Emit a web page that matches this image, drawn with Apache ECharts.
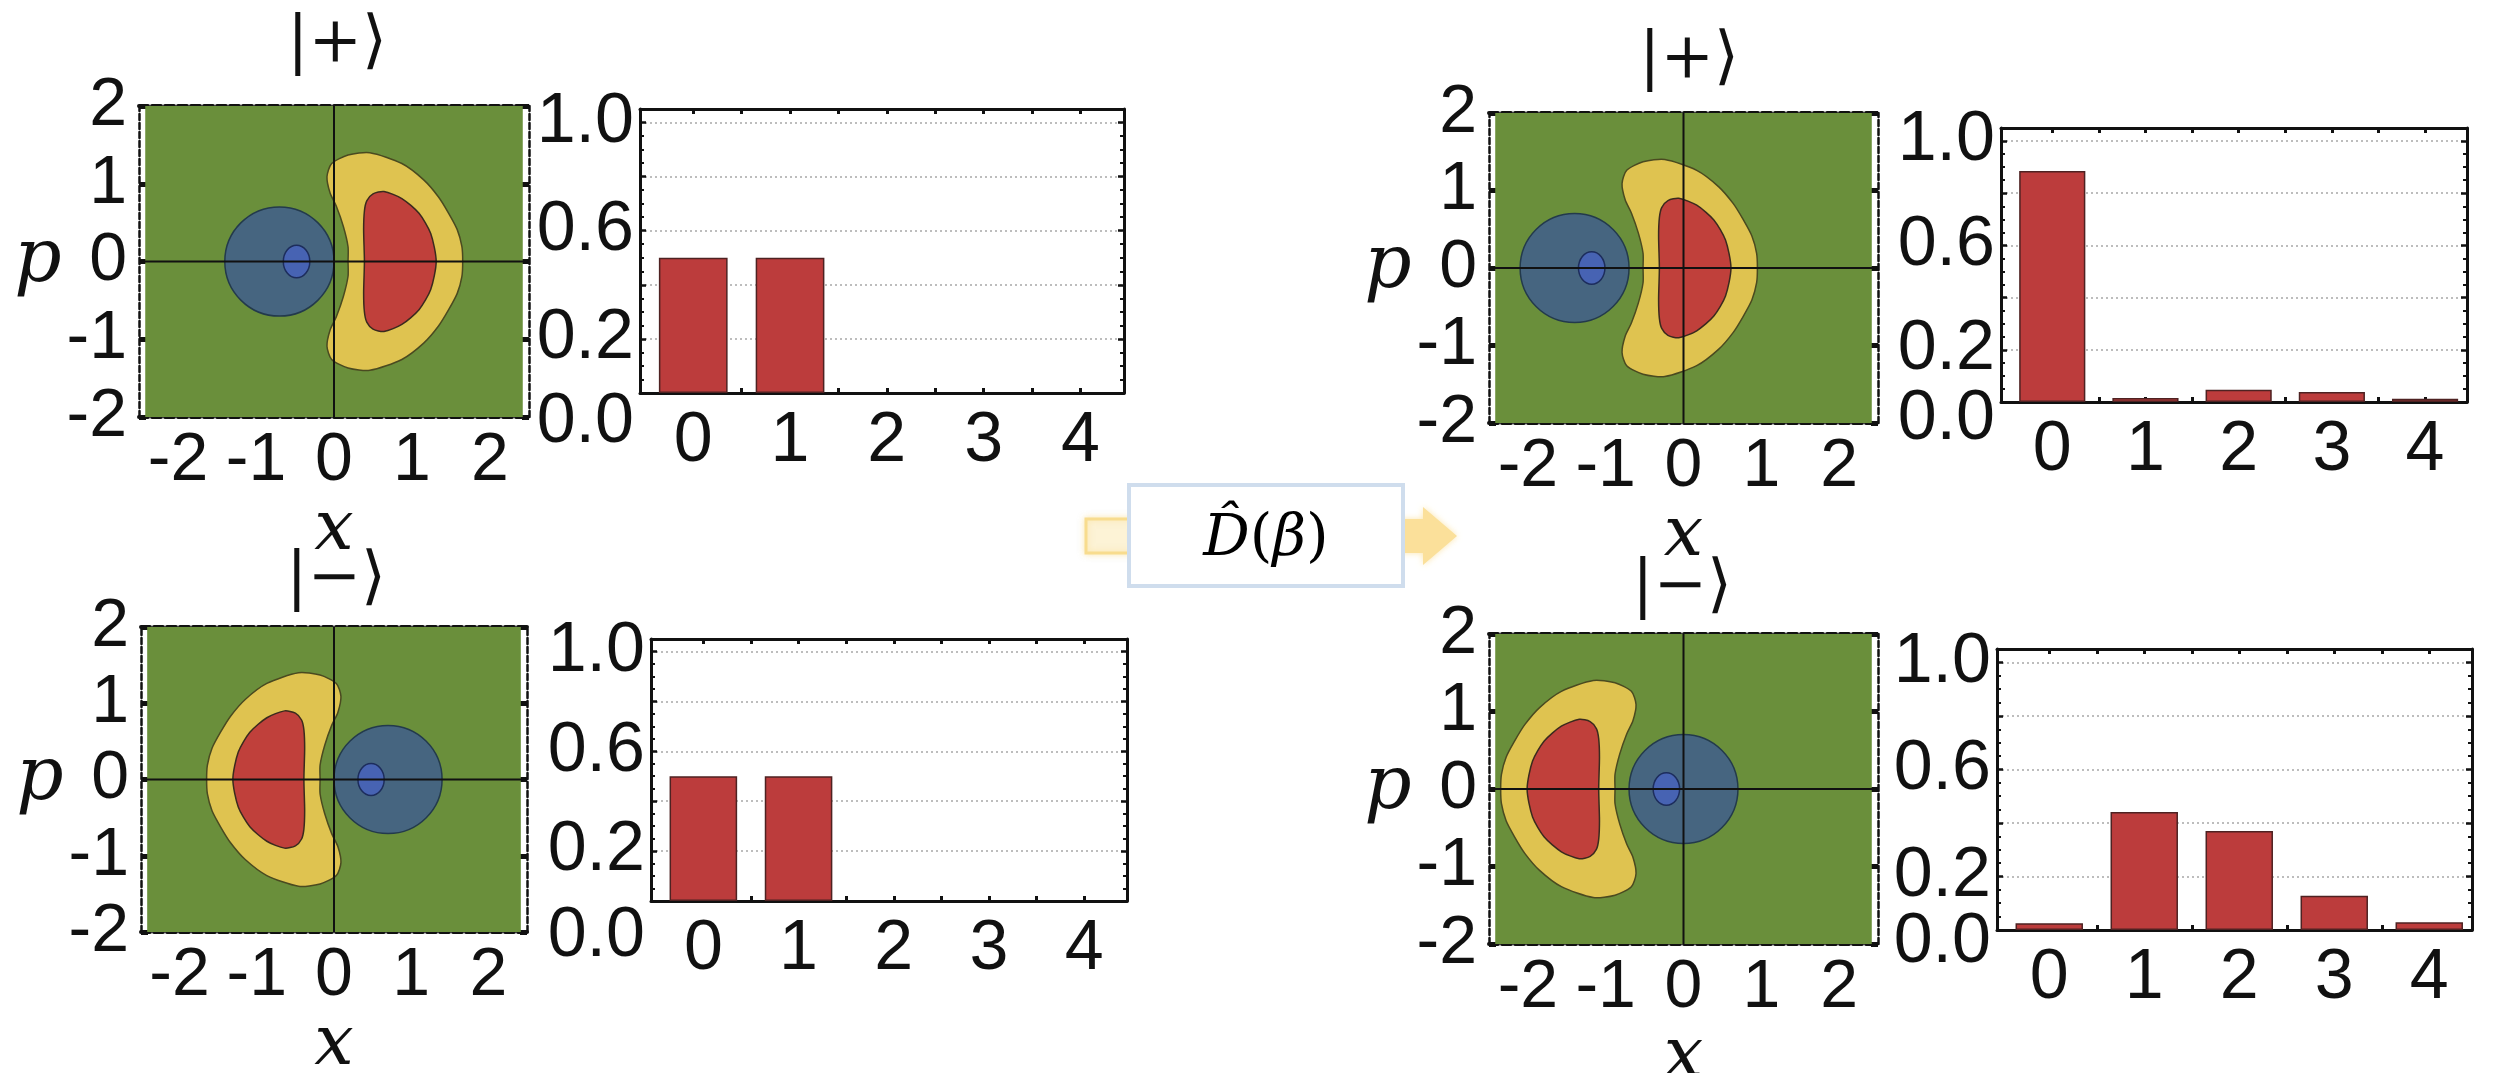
<!DOCTYPE html>
<html><head><meta charset="utf-8">
<script src="https://cdn.jsdelivr.net/npm/echarts@6/dist/echarts.min.js"></script>
<style>html,body{margin:0;padding:0;background:#fff}#c{width:2500px;height:1073px}</style>
</head><body><div id="c"></div>
<script>
// ---------------- data ----------------
const photonNumbers = [0, 1, 2, 3, 4];
const probPlus = [0.50, 0.50, 0, 0, 0];
const probMinus = [0.50, 0.50, 0, 0, 0];
const probPlusDisplaced = [0.885, 0.015, 0.047, 0.038, 0.012];
const probMinusDisplaced = [0.025, 0.441, 0.370, 0.128, 0.029];
const barLabelValues = [1.0, 0, 0.2, 0.6];
const wignerTicksX = [-2, -1, 0, 1, 2];

// Wigner-function contour regions of |+> as (x, p)
const plusYellow = [
  [0.46, 1.40], [0.87, 1.26], [1.15, 1.05], [1.34, 0.83], [1.47, 0.62], [1.58, 0.41], [1.64, 0.19], [1.65, 0],
  [1.64, -0.19], [1.58, -0.41], [1.47, -0.62], [1.34, -0.83], [1.15, -1.05], [0.87, -1.26], [0.46, -1.40],
  [0.18, -1.37], [-0.03, -1.26], [-0.09, -1.09], [-0.05, -0.88], [0.03, -0.71], [0.12, -0.45], [0.18, -0.19],
  [0.18, 0],
  [0.18, 0.19], [0.12, 0.45], [0.03, 0.71], [-0.05, 0.88], [-0.09, 1.09], [-0.03, 1.26], [0.18, 1.37]
];
const plusRed = [
  [0.39, 0], [0.38, 0.41], [0.39, 0.65], [0.42, 0.78], [0.50, 0.87], [0.64, 0.90], [0.87, 0.81],
  [1.09, 0.62], [1.24, 0.36], [1.31, 0], [1.24, -0.36], [1.09, -0.62], [0.87, -0.81], [0.64, -0.90],
  [0.50, -0.87], [0.42, -0.78], [0.39, -0.65], [0.38, -0.41]
];
const plusNegative = [-0.70, 0, 0.70];          // centre x, centre p, radius
const plusDeepNegative = [-0.48, 0, 0.17, 0.21]; // centre x, centre p, rx, rp
const plotRegion = [-2.42, 2.42, -2, 2];

// panels: 0 |+>, 1 |->, 2 D|+>, 3 D|->
const panelTitles = ['|+\u27E9', '|\u2212\u27E9', '|+\u27E9', '|\u2212\u27E9'];
const panelMirror = [1, -1, 1, -1];
const panelShift = [0, 0, -0.70, -0.70];
const panelProbs = [probPlus, probMinus, probPlusDisplaced, probMinusDisplaced];

// ---------------- layout / style ----------------
const wGrids = [
  {left: 139, top: 106, width: 390, height: 311},
  {left: 141, top: 627, width: 386, height: 305},
  {left: 1489, top: 113, width: 389, height: 310},
  {left: 1489, top: 634, width: 389, height: 310}
];
const bGrids = [
  {left: 640, top: 109, width: 484, height: 284},
  {left: 651, top: 639, width: 476, height: 262},
  {left: 2001, top: 128, width: 466, height: 274},
  {left: 1997, top: 649, width: 475, height: 281}
];
const titlePos = [[337, 44], [336, 580], [1689, 60], [1682, 588]];
const zeroLabelShift = [30, 36, 18, 13];
const pNameGap = [68, 64, 55, 66];

const SANS = '"Liberation Sans", Arial, Helvetica, sans-serif';
const SERIF = '"DejaVu Serif", "Liberation Serif", serif';
const INK = '#111';
const GREEN = '#6a8f3b', YELLOW = '#dfc350', RED = '#c0403b', BLUE = '#466580', DEEP = '#4763b3';
const TICKFONT = 68, BARFONT = 70;

const grid = [], xAxis = [], yAxis = [], series = [];
wGrids.concat(bGrids).forEach(g => {
  grid.push(Object.assign({outerBoundsMode: 'none', containLabel: false}, g));
});

for (let i = 0; i < 4; i++) {
  const gi = i;
  const xb = xAxis.length;
  xAxis.push({
    gridIndex: gi, type: 'value', min: -2.5, max: 2.5, position: 'bottom',
    name: 'x', nameLocation: 'middle', nameGap: 52,
    nameTextStyle: {fontFamily: SERIF, fontStyle: 'italic', fontSize: 70, color: INK},
    axisLine: {show: true, onZero: false, lineStyle: {color: INK, width: 4, type: [9, 4]}},
    axisTick: {show: true, inside: true, length: 6, customValues: wignerTicksX, lineStyle: {color: INK, width: 8}},
    axisLabel: {show: true, customValues: wignerTicksX, showMinLabel: true, showMaxLabel: true,
      fontSize: TICKFONT, margin: 10, color: INK, fontFamily: SANS},
    splitLine: {show: false}
  });
  xAxis.push({
    gridIndex: gi, type: 'value', min: -2.5, max: 2.5, position: 'top',
    axisLine: {show: true, onZero: false, lineStyle: {color: INK, width: 4, type: [9, 4]}},
    axisTick: {show: true, inside: true, length: 6, customValues: wignerTicksX, lineStyle: {color: INK, width: 8}},
    axisLabel: {show: false}, splitLine: {show: false}
  });
  const yl = yAxis.length;
  yAxis.push({
    gridIndex: gi, type: 'value', min: -2, max: 2, interval: 1, position: 'left',
    name: 'p', nameLocation: 'middle', nameRotate: 0, nameGap: pNameGap[i],
    nameTextStyle: {fontFamily: SERIF, fontStyle: 'italic', fontSize: 74, color: INK},
    axisLine: {show: true, onZero: false, lineStyle: {color: INK, width: 2.5, type: [6, 3]}},
    axisTick: {show: true, inside: true, length: 7, lineStyle: {color: INK, width: 5}},
    axisLabel: {show: true, showMinLabel: true, showMaxLabel: true, fontSize: TICKFONT, margin: 12, color: INK, fontFamily: SANS},
    splitLine: {show: false}
  });
  yAxis.push({
    gridIndex: gi, type: 'value', min: -2, max: 2, interval: 1, position: 'right',
    axisLine: {show: true, onZero: false, lineStyle: {color: INK, width: 2.5, type: [6, 3]}},
    axisTick: {show: true, inside: true, length: 7, lineStyle: {color: INK, width: 5}},
    axisLabel: {show: false}, splitLine: {show: false}
  });

  const panel = i;
  series.push({
    type: 'custom', xAxisIndex: xb, yAxisIndex: yl, silent: true, clip: true,
    animation: false,
    data: [[0, 0]],
    renderItem: function (params, api) {
      const m = panelMirror[panel], s = panelShift[panel];
      const tr = pt => api.coord([m * pt[0] + s, pt[1]]);
      const r0 = api.coord([plotRegion[0], plotRegion[3]]);
      const r1 = api.coord([plotRegion[1], plotRegion[2]]);
      const c = api.coord([m * plusNegative[0] + s, plusNegative[1]]);
      const rad = api.size([plusNegative[2], plusNegative[2]]);
      const d = api.coord([m * plusDeepNegative[0] + s, plusDeepNegative[1]]);
      const dr = api.size([plusDeepNegative[2], plusDeepNegative[3]]);
      const xa = api.coord([0, -2]), xb2 = api.coord([0, 2]);
      const pa = api.coord([-2.5, 0]), pb = api.coord([2.5, 0]);
      return {
        type: 'group', children: [
          {type: 'rect', shape: {x: r0[0], y: r0[1], width: r1[0] - r0[0], height: r1[1] - r0[1]}, style: {fill: GREEN}},
          {type: 'polygon', shape: {points: plusYellow.map(tr), smooth: 0.25}, style: {fill: YELLOW, stroke: '#4a4a20', lineWidth: 1.5}},
          {type: 'polygon', shape: {points: plusRed.map(tr), smooth: 0.25}, style: {fill: RED, stroke: '#3b2a1e', lineWidth: 1.5}},
          {type: 'circle', shape: {cx: c[0], cy: c[1], r: rad[0]}, style: {fill: BLUE, stroke: '#233a4c', lineWidth: 1.5}},
          {type: 'ellipse', shape: {cx: d[0], cy: d[1], rx: dr[0], ry: dr[1]}, style: {fill: DEEP, stroke: '#1d2d5c', lineWidth: 1.5}},
          {type: 'line', shape: {x1: xa[0], y1: xa[1], x2: xb2[0], y2: xb2[1]}, style: {stroke: INK, lineWidth: 2}},
          {type: 'line', shape: {x1: pa[0], y1: pa[1], x2: pb[0], y2: pb[1]}, style: {stroke: INK, lineWidth: 2}}
        ]
      };
    }
  });
}

const barTickPositions = [0, 0.5, 1, 1.5, 2, 2.5, 3, 3.5, 4];
for (let i = 0; i < 4; i++) {
  const gi = 4 + i;
  const xb = xAxis.length;
  const common = {gridIndex: gi, type: 'value', min: -0.55, max: 4.45, splitLine: {show: false}};
  xAxis.push(Object.assign({}, common, {
    position: 'bottom',
    axisLine: {show: true, onZero: false, lineStyle: {color: INK, width: 3}},
    axisTick: {show: true, inside: true, length: 5, customValues: barTickPositions, lineStyle: {color: INK, width: 3}},
    axisLabel: {show: true, customValues: photonNumbers, showMinLabel: true, showMaxLabel: true,
      fontSize: BARFONT, margin: 14, color: INK, fontFamily: SANS}
  }));
  xAxis.push(Object.assign({}, common, {
    position: 'top',
    axisLine: {show: true, onZero: false, lineStyle: {color: INK, width: 3}},
    axisTick: {show: true, inside: true, length: 5, customValues: barTickPositions, lineStyle: {color: INK, width: 3}},
    axisLabel: {show: false}
  }));
  const yl = yAxis.length;
  const off = zeroLabelShift[i];
  yAxis.push({
    gridIndex: gi, type: 'value', min: 0, max: 1.05, interval: 0.2, position: 'left',
    axisLine: {show: true, onZero: false, lineStyle: {color: INK, width: 3}},
    axisTick: {show: true, inside: true, length: 6, lineStyle: {color: INK, width: 2.5}},
    minorTick: {show: true, splitNumber: 4, length: 4, lineStyle: {color: INK, width: 2}},
    axisLabel: {
      show: true, customValues: barLabelValues, showMinLabel: true, showMaxLabel: true, hideOverlap: false,
      fontSize: BARFONT, margin: 6, color: INK, fontFamily: SANS, lineHeight: 20,
      formatter: v => v === 0 ? '{z|0.0}' : '{n|' + v.toFixed(1) + '}',
      rich: {
        n: {fontSize: BARFONT, fontFamily: SANS, color: INK, lineHeight: 20},
        z: {fontSize: BARFONT, fontFamily: SANS, color: INK, lineHeight: 20, padding: [2 * off, 0, 0, 0]}
      }
    },
    splitLine: {show: true, lineStyle: {color: '#a8a8a8', width: 1.5, type: [2, 3]}}
  });
  yAxis.push({
    gridIndex: gi, type: 'value', min: 0, max: 1.05, interval: 0.2, position: 'right',
    axisLine: {show: true, onZero: false, lineStyle: {color: INK, width: 3}},
    axisTick: {show: true, inside: true, length: 6, lineStyle: {color: INK, width: 2.5}},
    minorTick: {show: true, splitNumber: 4, length: 4, lineStyle: {color: INK, width: 2}},
    axisLabel: {show: false}, splitLine: {show: false}
  });
  series.push({
    type: 'bar', xAxisIndex: xb, yAxisIndex: yl, barWidth: '71%', animation: false, silent: true,
    data: photonNumbers.map((n, k) => {
      const v = panelProbs[i][k];
      return v > 0 ? [n, v] : {value: [n, v], itemStyle: {borderWidth: 0}};
    }),
    itemStyle: {color: '#bc3c3c', borderColor: '#4e2222', borderWidth: 1.5}
  });
}

const graphic = [];
panelTitles.forEach((t, i) => {
  graphic.push({
    type: 'text', x: titlePos[i][0], y: titlePos[i][1], z: 10,
    style: {text: t, fontFamily: SERIF, fontSize: 64, fill: INK, align: 'center', verticalAlign: 'middle'}
  });
});
// displacement arrow and operator box
graphic.push({
  type: 'rect', shape: {x: 1086, y: 519, width: 50, height: 34}, z: 1,
  style: {fill: '#fdf3d6', stroke: '#f8dc8e', lineWidth: 3, shadowBlur: 6, shadowColor: 'rgba(250,215,120,0.5)'}
});
graphic.push({
  type: 'polygon', z: 1,
  shape: {points: [[1398, 519], [1423, 519], [1423, 507], [1457, 536], [1423, 565], [1423, 553], [1398, 553]]},
  style: {fill: '#fbe09a', shadowBlur: 6, shadowColor: 'rgba(250,215,120,0.6)'}
});
graphic.push({
  type: 'rect', shape: {x: 1129, y: 485, width: 274, height: 101}, z: 2,
  style: {fill: '#ffffff', stroke: '#cfdded', lineWidth: 4}
});
graphic.push({
  type: 'text', x: 1266, y: 540, z: 3,
  style: {
    text: '{i|D\u0302}{n|(}{i|\u03B2}{n|)}', align: 'center', verticalAlign: 'middle',
    rich: {
      i: {fontFamily: SERIF, fontStyle: 'italic', fontSize: 58, color: INK},
      n: {fontFamily: SERIF, fontSize: 58, color: INK}
    }
  }
});

const chart = echarts.init(document.getElementById('c'));
chart.setOption({
  backgroundColor: '#ffffff',
  animation: false,
  grid: grid, xAxis: xAxis, yAxis: yAxis, series: series, graphic: graphic
});
</script>
</body></html>
